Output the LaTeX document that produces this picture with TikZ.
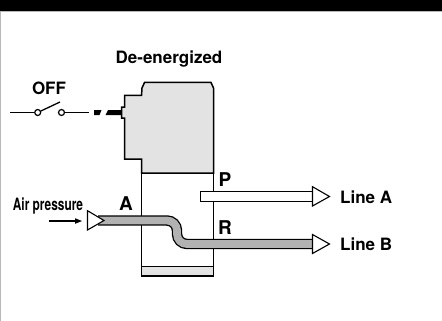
\documentclass[tikz,border=0pt]{standalone}
\usepackage{fontspec}
\setmainfont{TeX Gyre Heros}
\definecolor{bodygray}{gray}{0.89}
\definecolor{pipegray}{gray}{0.70}
\definecolor{framegray}{gray}{0.72}
\tikzset{
  lbl/.style={inner sep=0pt,font=\fontsize{17}{19}\selectfont\bfseries},
  biglbl/.style={inner sep=0pt,font=\fontsize{19}{21}\selectfont\bfseries},
  outline/.style={draw=black,line width=1.5pt,line join=miter},
  tiptri/.style={draw=black,fill=white,line width=1.1pt,line join=miter},
  contact/.style={circle,draw=black,fill=white,line width=1.2pt,minimum size=6pt,inner sep=0pt},
  wire/.style={draw=black,line width=1.3pt}
}
\begin{document}
\begin{tikzpicture}[x=1pt,y=-1pt]
\useasboundingbox (0,0) rectangle (442,321);
\fill[white] (0,0) rectangle (442,321);
\fill[black] (0,0) rectangle (442,11);
\fill[framegray] (0,11) rectangle (442,12);
\fill[framegray] (0,12) rectangle (1,321);
% body
\draw[outline,fill=white] (141.5,159) rectangle (213.5,276);
\draw[outline,fill=bodygray] (124.5,159) -- (124.5,118) -- (121.5,118) -- (121.5,107) -- (124.5,107) -- (124.5,95.5) -- (141.5,95.5) -- (142,88) -- (144.5,82.5) -- (211,82.5) -- (213.5,88) -- (213.5,173) -- (141.5,173) -- (141.5,159) -- cycle;
\draw[outline,fill=bodygray] (141.5,266.5) rectangle (213.5,276);
% pipes
\coordinate (pa) at (98,220.5);
\coordinate (pb) at (312.5,244);
\draw[black,line width=10.4pt,rounded corners=10pt] (pa) -- (177,220.5) -- (177,244) -- (pb);
\draw[pipegray,line width=7.8pt,rounded corners=10pt] (pa) -- (177,220.5) -- (177,244) -- (pb);
\draw[outline,fill=white,line width=1.3pt] (312.5,191.7) -- (200.5,191.7) -- (200.5,201.3) -- (312.5,201.3);
% triangular tips
\draw[tiptri] (87.5,210.7) -- (104,220.5) -- (87.5,230) -- cycle;
\draw[tiptri] (312.5,186.7) -- (329.5,196.5) -- (312.5,206) -- cycle;
\draw[tiptri] (312.5,234.5) -- (329.5,244) -- (312.5,253.5) -- cycle;
% switch
\node[contact] (c1) at (37.7,112.5) {};
\node[contact] (c2) at (61.5,112.5) {};
\coordinate (w1) at (10,112.5);
\coordinate (w2) at (89,112.5);
\coordinate (blade) at (60,102);
\draw[wire] (w1) -- (c1);
\draw[wire] (c2) -- (w2);
\draw[wire] (c1) -- (blade);
% dashed link
\fill[black] (94,110) -- (101.5,110) -- (99.5,115) -- (94,115) -- cycle;
\fill[black] (108,110) -- (121.5,110) -- (121.5,115) -- (105.5,115) -- cycle;
% small arrow
\coordinate (s1) at (49,221);
\coordinate (s2) at (82,221);
\draw[black,line width=1.4pt] (s1) -- (76,221);
\fill[black] (s2) -- (75,218.2) -- (75,223.8) -- cycle;
% labels
\node[lbl] (title) at (169,59) {De-energized};
\node[lbl] (off) at (49,88) {OFF};
\node[lbl,xscale=.70] (air) at (48,206.5) {Air pressure};
\node[biglbl] (a) at (126,203.5) {A};
\node[biglbl] (p) at (225,180) {P};
\node[biglbl] (r) at (225,228) {R};
\node[lbl,anchor=west] (la) at (340,197) {Line A};
\node[lbl,anchor=west] (lb) at (340,244) {Line B};
\end{tikzpicture}
\end{document}
